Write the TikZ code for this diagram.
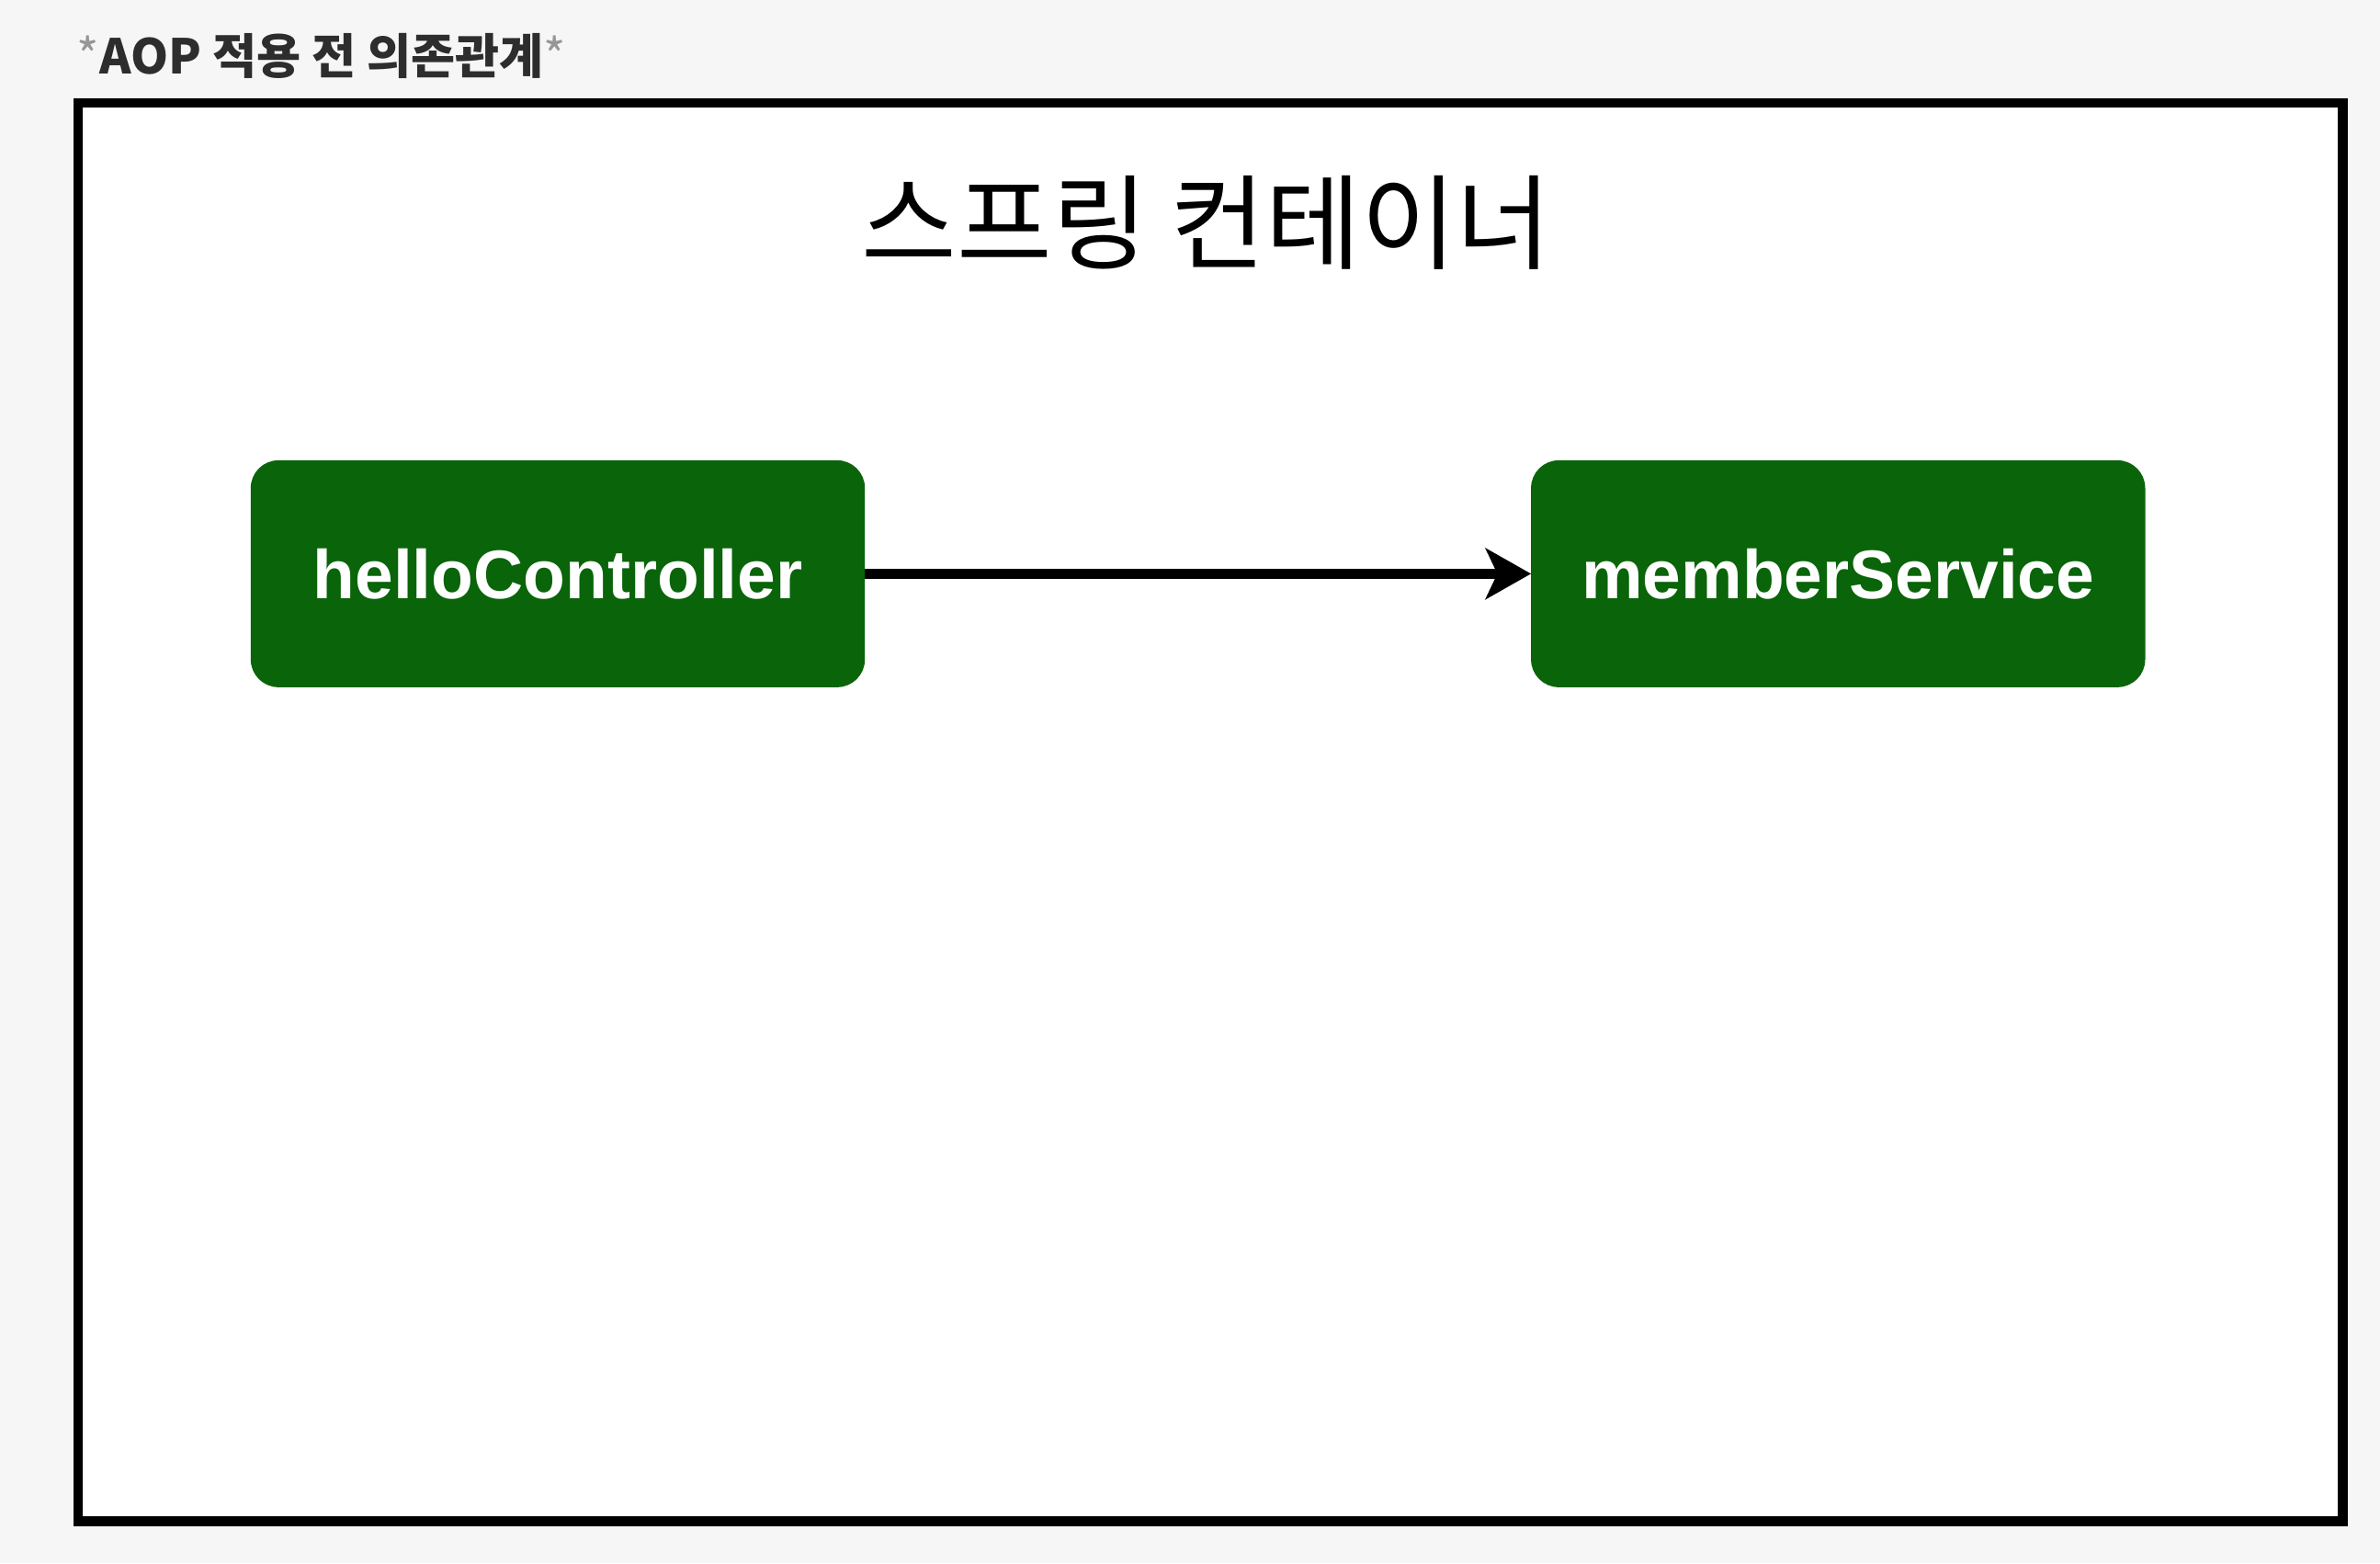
\documentclass[tikz,border=0pt]{standalone}
\usepackage{fontspec}
\setmainfont{Liberation Sans}
\newfontfamily\krfont{Noto Sans CJK KR}
\usetikzlibrary{positioning,arrows.meta}
\definecolor{beangreen}{RGB}{10,100,9}
\definecolor{pagegray}{RGB}{246,246,246}
\definecolor{stargray}{RGB}{150,150,150}
\definecolor{headgray}{RGB}{45,45,45}

\begin{document}
\begin{tikzpicture}[
  x=0.01cm, y=-0.01cm, >=Stealth,
  container/.style={draw, line width=1.8pt, fill=white, minimum width=14.91cm, minimum height=9.34cm},
  bean/.style={draw=beangreen, fill=beangreen, rounded corners=5pt, minimum width=4.03cm, minimum height=1.48cm,
               text=white, font=\fontsize{12.9}{15}\selectfont\bfseries},
  dep/.style={line width=1.9pt, arrows={-Stealth[length=8.5pt, width=9.5pt, inset=2.2pt]}},
]
% 바탕 (화면 회색 여백)
\fill[pagegray] (0,0) rectangle (1568,1030);

% 제목
\node[anchor=base west, inner sep=0pt, text=headgray, font=\krfont\fontsize{9.0}{11}\selectfont] (heading) at (50,49)
  {\textcolor{stargray}{*}\textbf{AOP 적용 전 의존관계}\textcolor{stargray}{*}};

% 스프링 컨테이너
\node[container] (spring) at (797.5,535) {};
\node[font=\krfont\fontsize{19.4}{22}\selectfont] (springlabel) at (795,147) {스프링 컨테이너};

% 빈
\node[bean] (hello) at (367.5,378) {helloController};
\node[bean] (member) at (1211,378) {memberService};

% 의존관계
\draw[dep] (hello) -- (member);
\end{tikzpicture}
\end{document}
